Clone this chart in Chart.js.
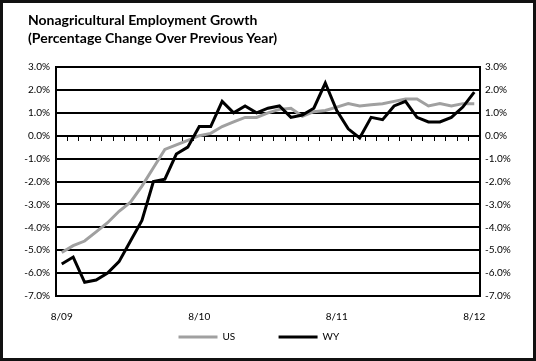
<!DOCTYPE html>
<html>
<head>
<meta charset="utf-8">
<script src="https://cdn.jsdelivr.net/npm/chart.js@4.4.0/dist/chart.umd.min.js"></script>
<style>
  html, body { margin: 0; padding: 0; background: #fff; }
  #wrap { position: relative; width: 536px; height: 361px; box-sizing: border-box; border: 3px solid #111; background: #fff; }
  #title { position: absolute; left: 25px; top: 8px; font: bold 14px/18px Lato, "Open Sans", sans-serif; color: #000; white-space: nowrap; }
  canvas { display: block; }
</style>
</head>
<body>
<div id="wrap">
  <div id="title">Nonagricultural Employment Growth<br>(Percentage Change Over Previous Year)</div>
  <canvas id="myChart" width="530" height="355"></canvas>
</div>
<script>
// monthly, 8/09 .. 8/12
var months = ['8/09','9/09','10/09','11/09','12/09','1/10','2/10','3/10','4/10','5/10','6/10','7/10',
              '8/10','9/10','10/10','11/10','12/10','1/11','2/11','3/11','4/11','5/11','6/11','7/11',
              '8/11','9/11','10/11','11/11','12/11','1/12','2/12','3/12','4/12','5/12','6/12','7/12',
              '8/12'];
var tickLabels = ['8/09', '8/10', '8/11', '8/12'];

var usValues = [-5.1, -4.8, -4.6, -4.2, -3.8, -3.3, -2.9, -2.2, -1.4, -0.6, -0.4, -0.2,
                0.0, 0.1, 0.4, 0.6, 0.8, 0.8, 1.0, 1.15, 1.2, 0.85, 1.05, 1.1,
                1.25, 1.4, 1.3, 1.35, 1.4, 1.5, 1.6, 1.6, 1.3, 1.4, 1.3, 1.4,
                1.4];
var wyValues = [-5.6, -5.3, -6.4, -6.3, -6.0, -5.5, -4.6, -3.7, -2.0, -1.9, -0.8, -0.5,
                0.4, 0.4, 1.5, 1.0, 1.3, 1.0, 1.2, 1.3, 0.8, 0.9, 1.2, 2.3,
                1.1, 0.3, -0.1, 0.8, 0.7, 1.3, 1.5, 0.8, 0.6, 0.6, 0.8, 1.25,
                1.9];

var yMin = -7, yMax = 3;
var legendPad = [13, 12]; // extra spaces after legend text

var ctx = document.getElementById('myChart');
var fontFamily = 'Lato, "Open Sans", sans-serif';

function pct(v) { return v.toFixed(1) + '%'; }

new Chart(ctx, {
  type: 'line',
  data: {
    labels: months,
    datasets: [{
      label: 'US',
      data: usValues,
      borderColor: '#a0a0a0',
      backgroundColor: '#a0a0a0',
      borderWidth: 3,
      pointRadius: 0,
      tension: 0,
      order: 2
    }, {
      label: 'WY',
      data: wyValues,
      borderColor: '#000000',
      backgroundColor: '#000000',
      borderWidth: 3,
      pointRadius: 0,
      tension: 0,
      order: 1
    }]
  },
  options: {
    responsive: false,
    animation: false,
    layout: { padding: { left: 12, right: 0, top: 64, bottom: 6 } },
    plugins: {
      tooltip: { enabled: false },
      title: { display: false },
      legend: {
        position: 'bottom',
        labels: {
          boxWidth: 39,
          boxHeight: 3,
          padding: 10,
          color: '#000',
          font: { family: fontFamily, size: 10 },
          generateLabels: function(chart) {
            return chart.data.datasets.map(function(ds, i) {
              return {
                text: ds.label + '\u00a0'.repeat(legendPad[i]),
                fillStyle: ds.borderColor,
                strokeStyle: ds.borderColor,
                lineWidth: 0,
                hidden: false,
                datasetIndex: i
              };
            });
          }
        }
      }
    },
    scales: {
      x: {
        type: 'category',
        position: 'bottom',
        offset: true,
        grid: { display: false, drawTicks: false },
        border: { display: false },
        ticks: {
          autoSkip: false,
          maxRotation: 0,
          padding: 15,
          color: '#000',
          font: { family: fontFamily, size: 10 },
          callback: function(value, index) {
            var lab = months[index];
            return tickLabels.indexOf(lab) >= 0 ? lab : '';
          }
        },
        afterFit: function(scale) { scale.height = 26; }
      },
      x0: {
        type: 'category',
        position: { y: 0 },
        offset: true,
        grid: { display: true, offset: true, drawOnChartArea: false, drawTicks: true, tickLength: 4, color: '#000', lineWidth: 1 },
        border: { display: true, color: '#000', width: 2 },
        ticks: { display: false }
      },
      y: {
        position: 'left',
        min: yMin,
        max: yMax,
        grid: { color: '#000', lineWidth: 2, drawTicks: false },
        border: { display: true, color: '#000', width: 2 },
        ticks: {
          stepSize: 1,
          padding: 6,
          color: '#000',
          font: { family: fontFamily, size: 10 },
          callback: function(v) { return pct(v); }
        },
        afterFit: function(scale) { scale.width = 41; }
      },
      y2: {
        position: 'right',
        min: yMin,
        max: yMax,
        grid: { drawOnChartArea: false, drawTicks: false },
        border: { display: true, color: '#000', width: 2 },
        ticks: {
          stepSize: 1,
          padding: 5,
          color: '#000',
          font: { family: fontFamily, size: 10 },
          callback: function(v) { return pct(v); }
        },
        afterFit: function(scale) { scale.width = 53; }
      }
    }
  }
});
</script>
</body>
</html>
